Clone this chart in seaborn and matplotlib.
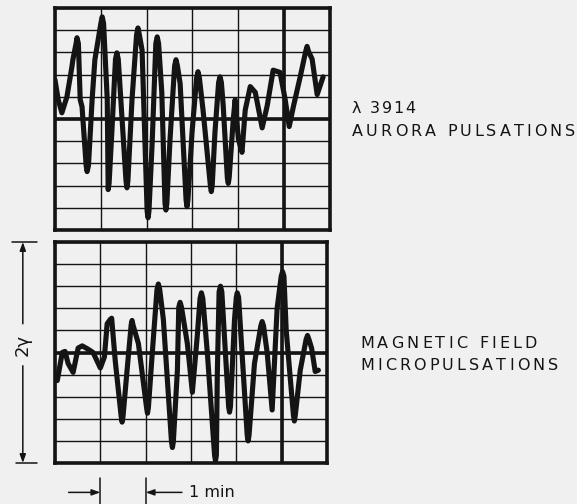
import numpy as np
import pandas as pd
import matplotlib
matplotlib.use("Agg")
import matplotlib.pyplot as plt
import seaborn as sns

# ---- data (read from the recordings; x in minutes, y in chart divisions) ----
aurora_t = [0.00, 0.07, 0.15, 0.26, 0.37, 0.39, 0.46, 0.48, 0.51, 0.55, 0.59, 0.68, 0.70, 0.73,
            0.81, 0.87, 1.00, 1.03, 1.06, 1.14, 1.16, 1.18, 1.24, 1.32, 1.35, 1.38,
            1.46, 1.55, 1.57, 1.59, 1.68, 1.78, 1.81, 1.84, 1.90, 2.01, 2.03, 2.05,
            2.12, 2.20, 2.23, 2.26, 2.33, 2.40, 2.42, 2.44, 2.51, 2.61, 2.64, 2.67,
            2.73, 2.86, 2.88, 2.90, 2.99, 3.09, 3.12, 3.15, 3.23, 3.39, 3.41, 3.43,
            3.49, 3.57, 3.60, 3.63, 3.67, 3.76, 3.78, 3.80, 3.89, 3.93, 4.00, 4.08,
            4.15, 4.26, 4.37, 4.52, 4.63, 4.76, 4.91, 5.02, 5.11, 5.20, 5.35, 5.47,
            5.50, 5.53, 5.61, 5.72, 5.85]
aurora_v = [1.76, 0.87, 0.28, 1.00, 2.36, 2.67, 3.40, 3.66, 3.40, 0.87, 0.55, -2.10, -2.37, -2.10,
            0.87, 2.67, 4.30, 4.60, 4.30, 0.87, -3.18, -2.90, -0.60, 2.70, 2.98, 2.70,
            0.10, -2.80, -3.10, -2.80, 0.87, 3.80, 4.10, 3.80, 3.10, -4.15, -4.45, -4.15,
            -1.07, 3.40, 3.70, 3.40, 1.20, -3.80, -4.10, -3.80, -0.90, 2.40, 2.67, 2.40,
            1.60, -3.65, -3.95, -3.65, -0.60, 1.85, 2.13, 1.85, 0.40, -3.00, -3.27, -3.00,
            -0.60, 1.65, 1.90, 1.65, 0.60, -2.65, -2.90, -2.65, 0.00, 0.87, -0.90, -1.50,
            0.40, 1.46, 1.20, -0.40, 0.60, 2.20, 2.10, 0.90, -0.34, 0.55, 1.90, 3.05,
            3.27, 3.05, 2.70, 1.10, 1.90]

magnet_t = [0.00, 0.05, 0.16, 0.22, 0.29, 0.40, 0.51, 0.60, 0.73, 0.84, 1.00, 1.09,
            1.15, 1.22, 1.25, 1.33, 1.46, 1.48, 1.50, 1.59, 1.68, 1.70, 1.72, 1.84,
            2.02, 2.04, 2.06, 2.15, 2.25, 2.28, 2.31, 2.39, 2.57, 2.59, 2.61, 2.70,
            2.73, 2.76, 2.79, 2.92, 3.03, 3.14, 3.20, 3.23, 3.26, 3.36, 3.52, 3.54,
            3.56, 3.58, 3.62, 3.65, 3.68, 3.73, 3.83, 3.85, 3.87, 3.96, 4.00, 4.02,
            4.05, 4.11, 4.24, 4.26, 4.28, 4.40, 4.54, 4.57, 4.60, 4.68, 4.79, 4.90,
            4.99, 5.02, 5.05, 5.10, 5.26, 5.28, 5.30, 5.41, 5.54, 5.57, 5.60, 5.66,
            5.74, 5.81]
magnet_v = [-1.10, -1.27, 0.00, 0.05, -0.50, -0.90, 0.20, 0.30, 0.15, 0.00, -0.70, -0.20,
            1.30, 1.50, 1.55, -0.40, -2.90, -3.15, -2.90, -0.80, 1.25, 1.45, 1.25, 0.40,
            -2.50, -2.75, -2.50, 0.10, 2.85, 3.10, 2.85, 1.50, -4.05, -4.30, -4.05, -0.80,
            2.05, 2.27, 2.05, 0.40, -1.80, 0.80, 2.45, 2.70, 2.45, 0.00, -4.65, -4.90,
            -4.65, -1.00, 2.75, 3.00, 2.75, 1.00, -2.45, -2.70, -2.45, 1.50, 2.50, 2.70,
            2.50, 0.50, -3.75, -4.00, -3.75, -0.50, 1.20, 1.40, 1.20, 0.00, -2.60, 2.00,
            3.45, 3.66, 3.45, 1.00, -2.85, -3.10, -2.85, -0.80, 0.60, 0.77, 0.60, 0.20,
            -0.86, -0.80]

label_top = ["\u03bb 3914", "AURORA PULSATIONS"]
label_bottom = ["MAGNETIC FIELD", "MICROPULSATIONS"]
scale_label = "2\u03b3"
time_label = "1 min"

x_ticks = [0, 1, 2, 3, 4, 5, 6]
y_ticks = [-5, -4, -3, -2, -1, 0, 1, 2, 3, 4, 5]

# ---- figure ----
sns.set_style("white")
plt.rcParams["font.family"] = ["DejaVu Sans"]
BG = "#f0f0f0"
INK = "#141414"
W, H = 577, 504
fig = plt.figure(figsize=(W / 100, H / 100), dpi=100, facecolor=BG)

ax_top = fig.add_axes([55 / W, 1 - 230 / H, 275 / W, 222 / H])
ax_bot = fig.add_axes([55 / W, 1 - 463 / H, 272 / W, 221 / H])


def style_chart(ax):
    ax.set_facecolor(BG)
    ax.set_xlim(0, 6)
    ax.set_ylim(-5, 5)
    ax.set_xticks(x_ticks)
    ax.set_yticks(y_ticks)
    ax.tick_params(length=0, labelbottom=False, labelleft=False)
    ax.grid(True, color=INK, lw=1.0)
    ax.axhline(0, color=INK, lw=2.6, zorder=2)
    ax.axvline(5, color=INK, lw=2.6, zorder=2)
    for sp in ax.spines.values():
        sp.set_visible(True)
        sp.set_color(INK)
        sp.set_linewidth(2.6)
    ax.set_xlabel("")
    ax.set_ylabel("")


df_a = pd.DataFrame({"t": aurora_t, "v": aurora_v})
df_m = pd.DataFrame({"t": magnet_t, "v": magnet_v})

sns.lineplot(data=df_a, x="t", y="v", ax=ax_top, color=INK, lw=3.7,
             estimator=None, solid_joinstyle="round", solid_capstyle="round", zorder=3)
sns.lineplot(data=df_m, x="t", y="v", ax=ax_bot, color=INK, lw=3.7,
             estimator=None, solid_joinstyle="round", solid_capstyle="round", zorder=3)
style_chart(ax_top)
style_chart(ax_bot)

# ---- letter-spaced labels ----
renderer = fig.canvas.get_renderer()


def tracked(s, x0, x1, baseline, size):
    pieces = []
    widths = []
    for ch in s:
        if ch == " ":
            pieces.append(None)
            widths.append(size * 1.389 * 0.35)
            continue
        t = fig.text(0, 0, ch, fontsize=size, color=INK, ha="left", va="baseline")
        widths.append(t.get_window_extent(renderer).width)
        pieces.append(t)
    gaps = len(s) - 1
    track = (x1 - x0 - sum(widths)) / gaps if gaps > 0 else 0
    x = x0
    for p, w in zip(pieces, widths):
        if p is not None:
            p.set_position((x / W, 1 - baseline / H))
        x += w + track


tracked(label_top[0], 352, 415, 113, 11.5)
tracked(label_top[1], 352, 575, 136, 11.5)
tracked(label_bottom[0], 360, 537, 348, 11.5)
tracked(label_bottom[1], 360, 558, 370, 11.5)

# ---- 2 gamma scale bar (bottom-axes data coordinates) ----
xs = -0.71
kw = dict(arrowstyle="-|>,head_length=0.5,head_width=0.18", color=INK, lw=1.1,
          shrinkA=0, shrinkB=0)
ax_bot.annotate("", xy=(xs, 5), xytext=(xs, 1.3), xycoords="data",
                arrowprops=kw, annotation_clip=False)
ax_bot.annotate("", xy=(xs, -5), xytext=(xs, -0.6), xycoords="data",
                arrowprops=kw, annotation_clip=False)
ax_bot.plot([-0.95, -0.40], [5, 5], color=INK, lw=1.1, clip_on=False)
ax_bot.plot([-0.85, -0.40], [-5, -5], color=INK, lw=1.1, clip_on=False)
ax_bot.text(xs, 0.33, scale_label, rotation=90, ha="center", va="center",
            fontsize=13, color=INK, clip_on=False)

# ---- 1 min marker ----
ax_bot.plot([1, 1], [-5.7, -6.9], color=INK, lw=1.1, clip_on=False)
ax_bot.plot([2, 2], [-5.7, -6.9], color=INK, lw=1.1, clip_on=False)
ax_bot.annotate("", xy=(1, -6.33), xytext=(0.3, -6.33), arrowprops=kw,
                annotation_clip=False)
ax_bot.annotate("", xy=(2, -6.33), xytext=(2.8, -6.33), arrowprops=kw,
                annotation_clip=False)
ax_bot.text(2.96, -6.33, time_label, ha="left", va="center", fontsize=11.5,
            color=INK, clip_on=False)

fig.savefig("out.png", dpi=100, facecolor=BG)
